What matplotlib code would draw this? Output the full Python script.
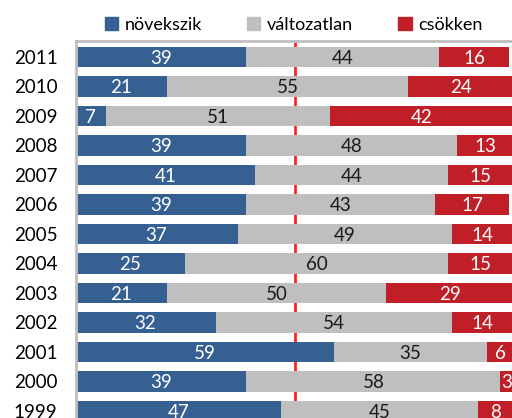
import matplotlib.pyplot as plt
import matplotlib.patches as mpatches
import numpy as np

plt.rcParams['font.family'] = ['Lato', 'DejaVu Sans']

years = ["2011", "2010", "2009", "2008", "2007", "2006", "2005",
         "2004", "2003", "2002", "2001", "2000", "1999"]
novekszik = [39, 21, 7, 39, 41, 39, 37, 25, 21, 32, 59, 39, 47]
valtozatlan = [44, 55, 51, 48, 44, 43, 49, 60, 50, 54, 35, 58, 45]
csokken = [16, 24, 42, 13, 15, 17, 14, 15, 29, 14, 6, 3, 8]

series_names = ["növekszik", "változatlan", "csökken"]
colors = ["#366092", "#BFBFBF", "#C01F28"]
text_colors = ["white", "#1a1a1a", "white"]

fig = plt.figure(figsize=(5.12, 4.18), dpi=100)
ax = fig.add_axes([75.5 / 512, -0.0256, 438 / 512, 0.9275])

y = np.arange(len(years))
left = np.zeros(len(years))
for vals, col, tcol in zip([novekszik, valtozatlan, csokken], colors, text_colors):
    vals = np.array(vals)
    ax.barh(y, vals, left=left, height=0.70, color=col, zorder=2)
    for yi, l, v in zip(y, left, vals):
        ax.text(l + v / 2, yi + 0.05, str(v), ha="center", va="center",
                fontsize=13.5, color=tcol, zorder=3)
    left = left + vals

ax.axvline(50, color="#FF2222", linewidth=2, zorder=1)

ax.set_xlim(0, 100)
ax.set_ylim(12.6, -0.54)
ax.set_yticks(y)
ax.set_yticklabels(years, fontsize=13.5)
ax.tick_params(axis="y", length=0, pad=13)
ax.set_xticks([])
for s in ["right", "bottom"]:
    ax.spines[s].set_visible(False)
for s in ["left", "top"]:
    ax.spines[s].set_color("#BFBFBF")
    ax.spines[s].set_linewidth(2)

handles = [mpatches.Patch(color=c, label=n) for c, n in zip(colors, series_names)]
fig.legend(handles=handles, loc="center", bbox_to_anchor=(0.573, 0.94), ncol=3,
           frameon=False, fontsize=13, handlelength=0.75, handleheight=0.75,
           handletextpad=0.35, columnspacing=2.5)

plt.savefig("out.png", dpi=100)
